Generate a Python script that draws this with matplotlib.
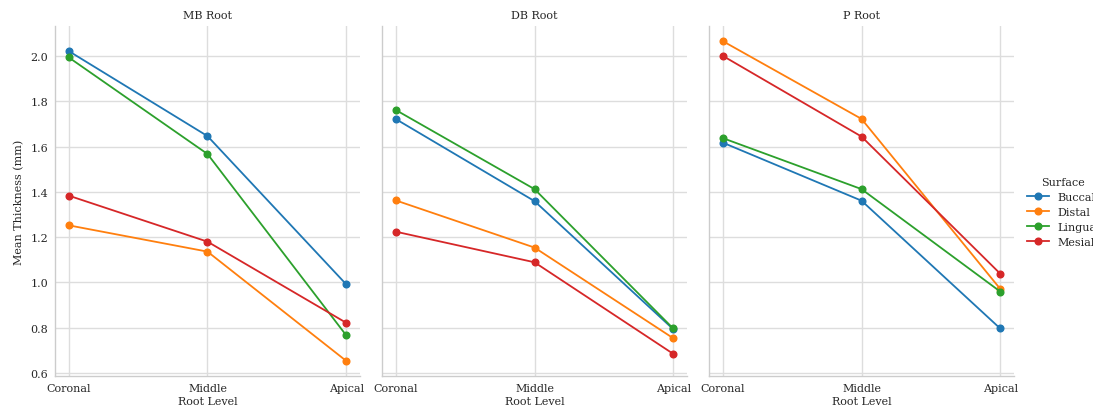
import matplotlib
matplotlib.use('Agg')
import matplotlib.pyplot as plt

plt.rcParams['font.family'] = ['DejaVu Serif']
plt.rcParams['font.size'] = 8

levels = ['Coronal', 'Middle', 'Apical']
roots = ['MB Root', 'DB Root', 'P Root']
surfaces = ['Buccal', 'Distal', 'Lingual', 'Mesial']
colors = ['#1f77b4', '#ff7f0e', '#2ca02c', '#d62728']

# mean thickness per root, per surface (Coronal, Middle, Apical)
mb_buccal = [2.021, 1.646, 0.992]
mb_distal = [1.252, 1.136, 0.654]
mb_lingual = [1.993, 1.567, 0.767]
mb_mesial = [1.383, 1.180, 0.822]

db_buccal = [1.721, 1.359, 0.794]
db_distal = [1.362, 1.154, 0.754]
db_lingual = [1.761, 1.412, 0.797]
db_mesial = [1.224, 1.089, 0.685]

p_buccal = [1.617, 1.361, 0.797]
p_distal = [2.065, 1.722, 0.972]
p_lingual = [1.637, 1.412, 0.960]
p_mesial = [2.000, 1.644, 1.039]

data = {
    'MB Root': [mb_buccal, mb_distal, mb_lingual, mb_mesial],
    'DB Root': [db_buccal, db_distal, db_lingual, db_mesial],
    'P Root': [p_buccal, p_distal, p_lingual, p_mesial],
}

W, H = 1093, 414
fig = plt.figure(figsize=(W / 100, H / 100), dpi=100)

lefts = [55, 382, 709]
axw = 305
top, bottom = 27, 377
x = range(len(levels))

grid_c = '#dddddd'
handles = []
for i, root in enumerate(roots):
    ax = fig.add_axes([lefts[i] / W, (H - bottom) / H, axw / W, (bottom - top) / H])
    for s, vals in enumerate(data[root]):
        h, = ax.plot(x, vals, color=colors[s], marker='o', markersize=4.8,
                     linewidth=1.3, label=surfaces[s])
        if i == 0:
            handles.append(h)
    ax.set_xlim(-0.1, 2.1)
    ax.set_ylim(0.587, 2.132)
    ax.set_yticks([0.6, 0.8, 1.0, 1.2, 1.4, 1.6, 1.8, 2.0])
    ax.set_xticks(list(x))
    ax.set_xticklabels(levels)
    ax.grid(True, color=grid_c, linewidth=1.0)
    ax.set_axisbelow(True)
    for sp in ['top', 'right']:
        ax.spines[sp].set_visible(False)
    for sp in ['left', 'bottom']:
        ax.spines[sp].set_color('#cccccc')
        ax.spines[sp].set_linewidth(1.0)
    ax.tick_params(length=0, pad=5, colors='#262626')
    ax.set_title(root, fontsize=8, pad=6, color='#262626')
    ax.set_xlabel('Root Level', labelpad=2, color='#262626')
    if i == 0:
        ax.set_ylabel('Mean Thickness (mm)', color='#262626')
    else:
        ax.tick_params(labelleft=False)

leg = fig.legend(handles=handles, title='Surface', loc='center left',
                 bbox_to_anchor=(1017 / W, (H - 213) / H), frameon=False,
                 fontsize=8, title_fontsize=8, handlelength=2.0,
                 handletextpad=0.7, labelspacing=0.45)
for t in leg.get_texts():
    t.set_color('#262626')
leg.get_title().set_color('#262626')

fig.savefig('out.png', dpi=100)
